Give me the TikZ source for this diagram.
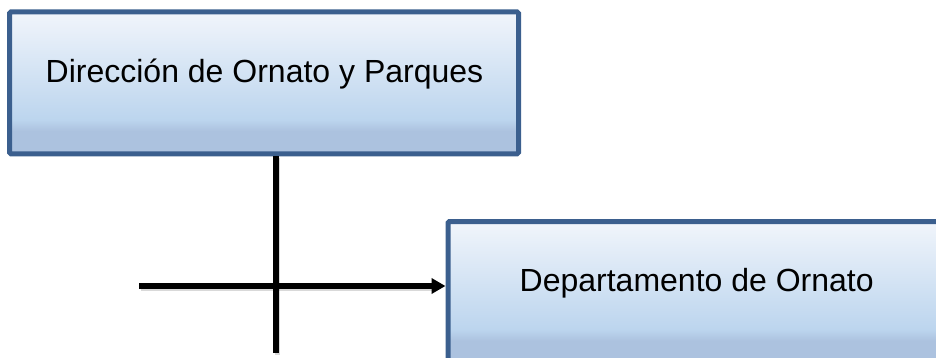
\documentclass[tikz,border=0pt]{standalone}
\usepackage{fontspec}
\setmainfont{Liberation Sans}
\usetikzlibrary{arrows.meta,shadows}
\definecolor{bordc}{HTML}{3B5F8E}
\definecolor{topc}{HTML}{F1F5FB}
\definecolor{midc}{HTML}{BCD5EE}
\definecolor{bandc}{HTML}{ACC2DF}
\pgfdeclareverticalshading{boxshade}{100bp}{color(0bp)=(bandc); color(25bp)=(bandc); color(33bp)=(bandc); color(37bp)=(midc); color(75bp)=(topc); color(100bp)=(topc)}
\tikzset{
  orgbox/.style={draw=bordc, line width=5pt, shading=boxshade, rectangle, inner sep=0pt, rounded corners=1.5pt,
    drop shadow={shadow xshift=1.5pt, shadow yshift=-1.5pt, opacity=0.22}},
  conn/.style={line width=5.5pt, black},
  connshadow/.style={line width=5.5pt, black, opacity=0.15, transform canvas={xshift=1.5pt, yshift=-2pt}},
  boxtext/.style={font=\fontsize{32}{38}\selectfont, anchor=base}
}
\begin{document}
\begin{tikzpicture}[x=1pt,y=-1pt]
\useasboundingbox (0,0) rectangle (936,358);
\clip (0,0) rectangle (936,358);
\node[orgbox, minimum width=509pt, minimum height=142pt] (b1) at (264,82.8) {};
\node[boxtext] (t1) at (264.5,83) {Dirección de Ornato y Parques};
\node[orgbox, minimum width=497pt, minimum height=142pt] (b2) at (696.5,292.5) {};
\node[boxtext] (t2) at (696.7,291.7) {Departamento de Ornato};
\coordinate (vend) at (276,353);
\coordinate (hstart) at (139,286);
\draw[connshadow] (b1.south -| vend) -- (vend);
\draw[connshadow] (hstart) -- ([xshift=-14pt]hstart -| b2.west);
\draw[conn] (b1.south -| vend) -- (vend);
\draw[conn, -{Triangle[length=14pt,width=15pt]}] (hstart) -- (hstart -| b2.west);
\end{tikzpicture}
\end{document}
